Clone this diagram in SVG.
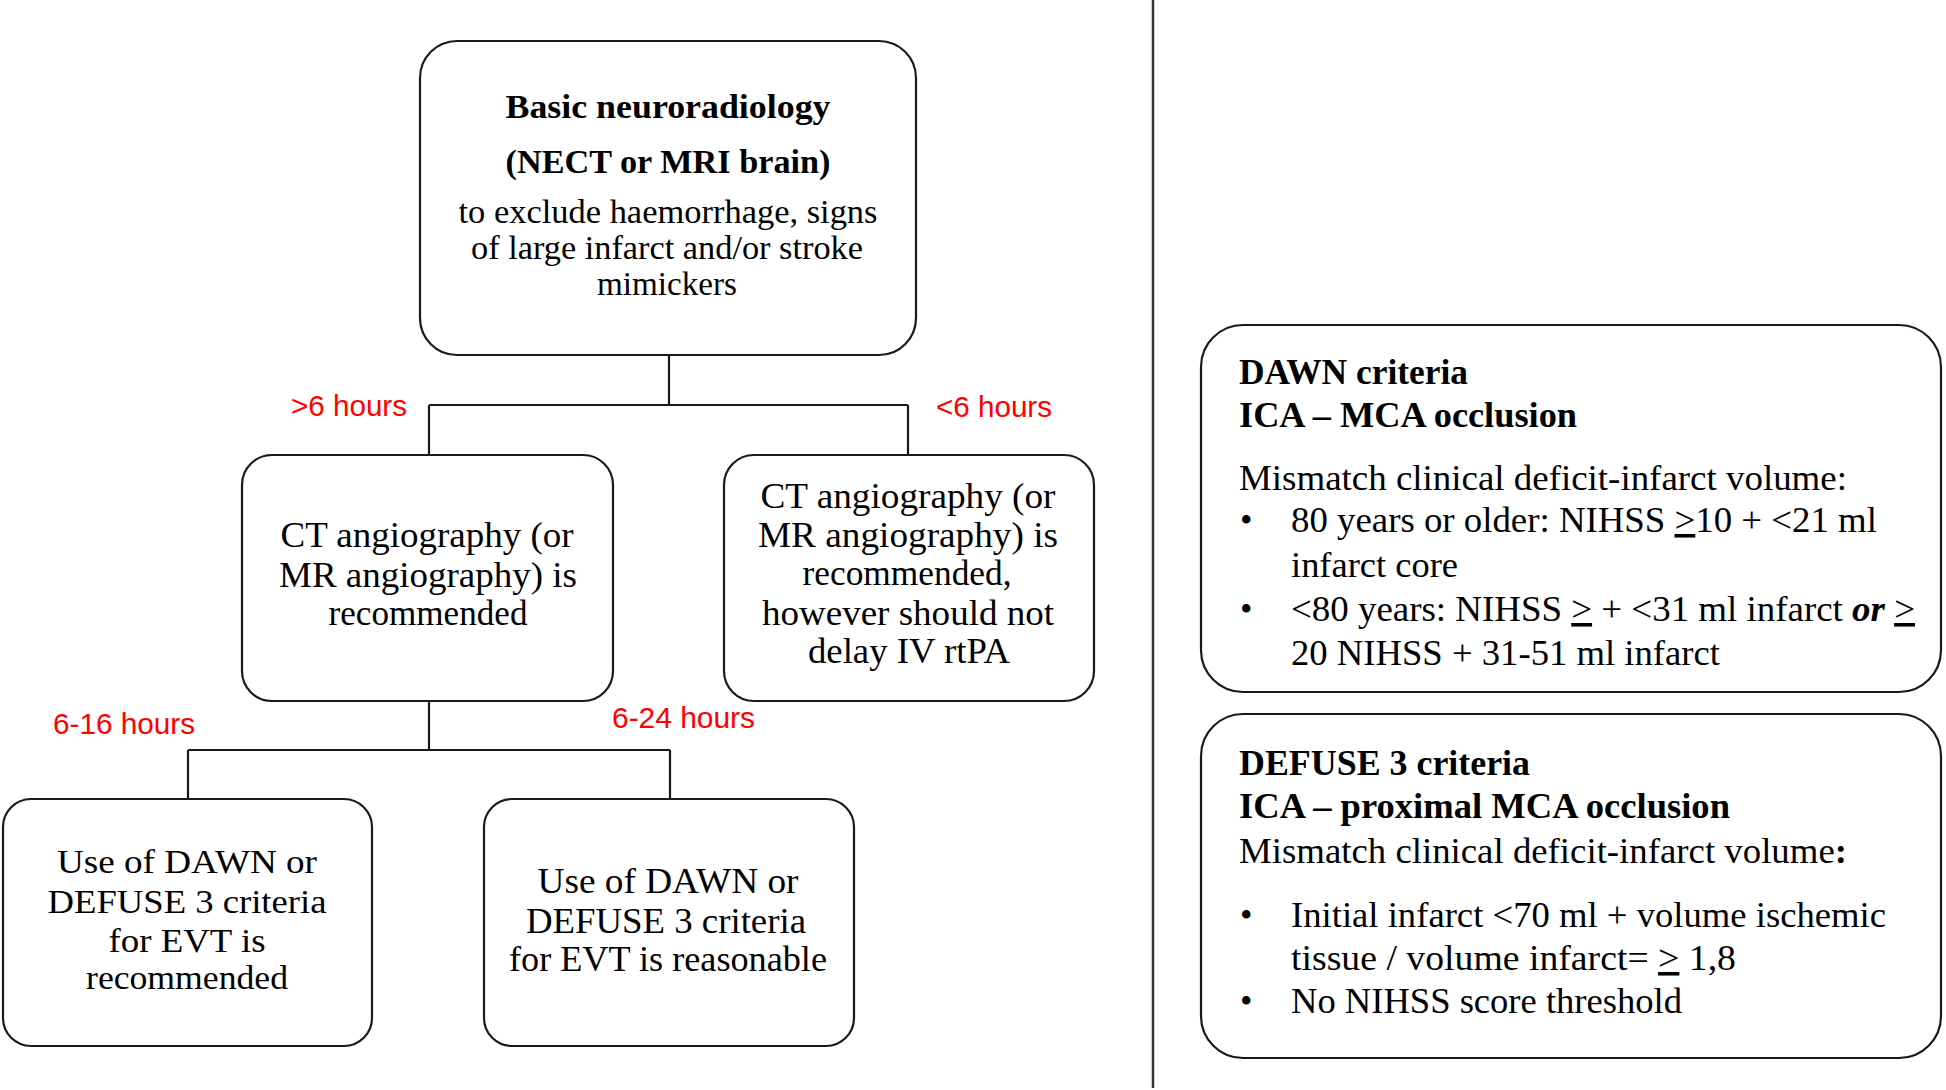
<svg xmlns="http://www.w3.org/2000/svg" width="1946" height="1090" viewBox="0 0 1946 1090">
<style>
.box{fill:#fff;stroke:#1a1a1a;stroke-width:2.2}
.con{fill:none;stroke:#1a1a1a;stroke-width:2.2}
text{font-family:"Liberation Serif","Times New Roman",serif;fill:#000}
.c{text-anchor:middle}
.b{font-weight:bold}
.t34{font-size:34px}
.t36{font-size:36px}
.t33{font-size:33px}
.t35{font-size:35.5px}
.red{font-family:"Liberation Sans",Arial,sans-serif;font-size:30px;fill:#ff0000}
.u{text-decoration:underline}
</style>
<rect width="1946" height="1090" fill="#fff"/>
<line x1="1153" y1="0" x2="1153" y2="1088" stroke="#333" stroke-width="2.5"/>
<g id="connectors">
<path class="con" d="M669 355V405M429 405H908M429 405V455M908 405V455"/>
<path class="con" d="M429 701V750M188 750H670M188 750V799M670 750V799"/>
</g>
<g id="labels">
<text class="red" x="291" y="416" textLength="116" lengthAdjust="spacingAndGlyphs">&gt;6 hours</text>
<text class="red" x="936" y="417" textLength="116" lengthAdjust="spacingAndGlyphs">&lt;6 hours</text>
<text class="red" x="53" y="734" textLength="142" lengthAdjust="spacingAndGlyphs">6-16 hours</text>
<text class="red" x="612" y="728" textLength="143" lengthAdjust="spacingAndGlyphs">6-24 hours</text>
</g>
<g id="node-basic">
<rect class="box" x="420" y="41" width="496" height="314" rx="37"/>
<text class="c b t34" x="668" y="118" textLength="325" lengthAdjust="spacingAndGlyphs">Basic neuroradiology</text>
<text class="c b t34" x="668" y="173" textLength="325" lengthAdjust="spacingAndGlyphs">(NECT or MRI brain)</text>
<text class="c t33" x="668" y="223" textLength="419" lengthAdjust="spacingAndGlyphs">to exclude haemorrhage, signs</text>
<text class="c t33" x="667" y="259" textLength="392" lengthAdjust="spacingAndGlyphs">of large infarct and/or stroke</text>
<text class="c t33" x="667" y="295" textLength="140" lengthAdjust="spacingAndGlyphs">mimickers</text>
</g>
<g id="node-cta-late">
<rect class="box" x="242" y="455" width="371" height="246" rx="30"/>
<text class="c t36" x="427" y="547" textLength="293" lengthAdjust="spacingAndGlyphs">CT angiography (or</text>
<text class="c t36" x="428" y="587" textLength="298" lengthAdjust="spacingAndGlyphs">MR angiography) is</text>
<text class="c t36" x="428" y="625" textLength="199" lengthAdjust="spacingAndGlyphs">recommended</text>
</g>
<g id="node-cta-early">
<rect class="box" x="724" y="455" width="370" height="246" rx="30"/>
<text class="c t36" x="908" y="508" textLength="295" lengthAdjust="spacingAndGlyphs">CT angiography (or</text>
<text class="c t36" x="908" y="547" textLength="300" lengthAdjust="spacingAndGlyphs">MR angiography) is</text>
<text class="c t36" x="907" y="585" textLength="209" lengthAdjust="spacingAndGlyphs">recommended,</text>
<text class="c t36" x="908" y="625" textLength="292" lengthAdjust="spacingAndGlyphs">however should not</text>
<text class="c t36" x="909" y="663" textLength="202" lengthAdjust="spacingAndGlyphs">delay IV rtPA</text>
</g>
<g id="node-evt-recommended">
<rect class="box" x="3" y="799" width="369" height="247" rx="28"/>
<text class="c t33" x="187" y="873" textLength="260" lengthAdjust="spacingAndGlyphs">Use of DAWN or</text>
<text class="c t33" x="187" y="913" textLength="279" lengthAdjust="spacingAndGlyphs">DEFUSE 3 criteria</text>
<text class="c t33" x="187" y="952" textLength="157" lengthAdjust="spacingAndGlyphs">for EVT is</text>
<text class="c t33" x="187" y="989" textLength="202" lengthAdjust="spacingAndGlyphs">recommended</text>
</g>
<g id="node-evt-reasonable">
<rect class="box" x="484" y="799" width="370" height="247" rx="28"/>
<text class="c t36" x="668" y="893" textLength="261" lengthAdjust="spacingAndGlyphs">Use of DAWN or</text>
<text class="c t36" x="666" y="933" textLength="280" lengthAdjust="spacingAndGlyphs">DEFUSE 3 criteria</text>
<text class="c t36" x="668" y="971" textLength="318" lengthAdjust="spacingAndGlyphs">for EVT is reasonable</text>
</g>
<g id="node-dawn">
<rect class="box" x="1201" y="325" width="740" height="367" rx="42"/>
<text class="b t36" x="1239" y="384" textLength="229" lengthAdjust="spacingAndGlyphs">DAWN criteria</text>
<text class="b t36" x="1239" y="427" textLength="338" lengthAdjust="spacingAndGlyphs">ICA – MCA occlusion</text>
<text class="t35" x="1239" y="490" textLength="608" lengthAdjust="spacingAndGlyphs">Mismatch clinical deficit-infarct volume:</text>
<text class="t35" x="1240" y="532">•</text>
<text class="t35" x="1291" y="532" textLength="586" lengthAdjust="spacingAndGlyphs">80 years or older: NIHSS <tspan class="u">&gt;</tspan>10 + &lt;21 ml</text>
<text class="t35" x="1291" y="577" textLength="167" lengthAdjust="spacingAndGlyphs">infarct core</text>
<text class="t35" x="1240" y="621">•</text>
<text class="t35" x="1291" y="621" textLength="624" lengthAdjust="spacingAndGlyphs">&lt;80 years: NIHSS <tspan class="u">&gt;</tspan> + &lt;31 ml infarct <tspan font-weight="bold" font-style="italic">or</tspan> <tspan class="u">&gt;</tspan></text>
<text class="t35" x="1291" y="665" textLength="429" lengthAdjust="spacingAndGlyphs">20 NIHSS + 31-51 ml infarct</text>
</g>
<g id="node-defuse">
<rect class="box" x="1201" y="714" width="740" height="344" rx="42"/>
<text class="b t36" x="1239" y="775" textLength="291" lengthAdjust="spacingAndGlyphs">DEFUSE 3 criteria</text>
<text class="b t36" x="1239" y="818" textLength="491" lengthAdjust="spacingAndGlyphs">ICA – proximal MCA occlusion</text>
<text class="t35" x="1239" y="863" textLength="608" lengthAdjust="spacingAndGlyphs">Mismatch clinical deficit-infarct volume<tspan font-weight="bold">:</tspan></text>
<text class="t35" x="1240" y="927">•</text>
<text class="t35" x="1291" y="927" textLength="595" lengthAdjust="spacingAndGlyphs">Initial infarct &lt;70 ml + volume ischemic</text>
<text class="t35" x="1291" y="970" textLength="445" lengthAdjust="spacingAndGlyphs">tissue / volume infarct= <tspan class="u">&gt;</tspan> 1,8</text>
<text class="t35" x="1240" y="1013">•</text>
<text class="t35" x="1291" y="1013" textLength="391" lengthAdjust="spacingAndGlyphs">No NIHSS score threshold</text>
</g>
</svg>
